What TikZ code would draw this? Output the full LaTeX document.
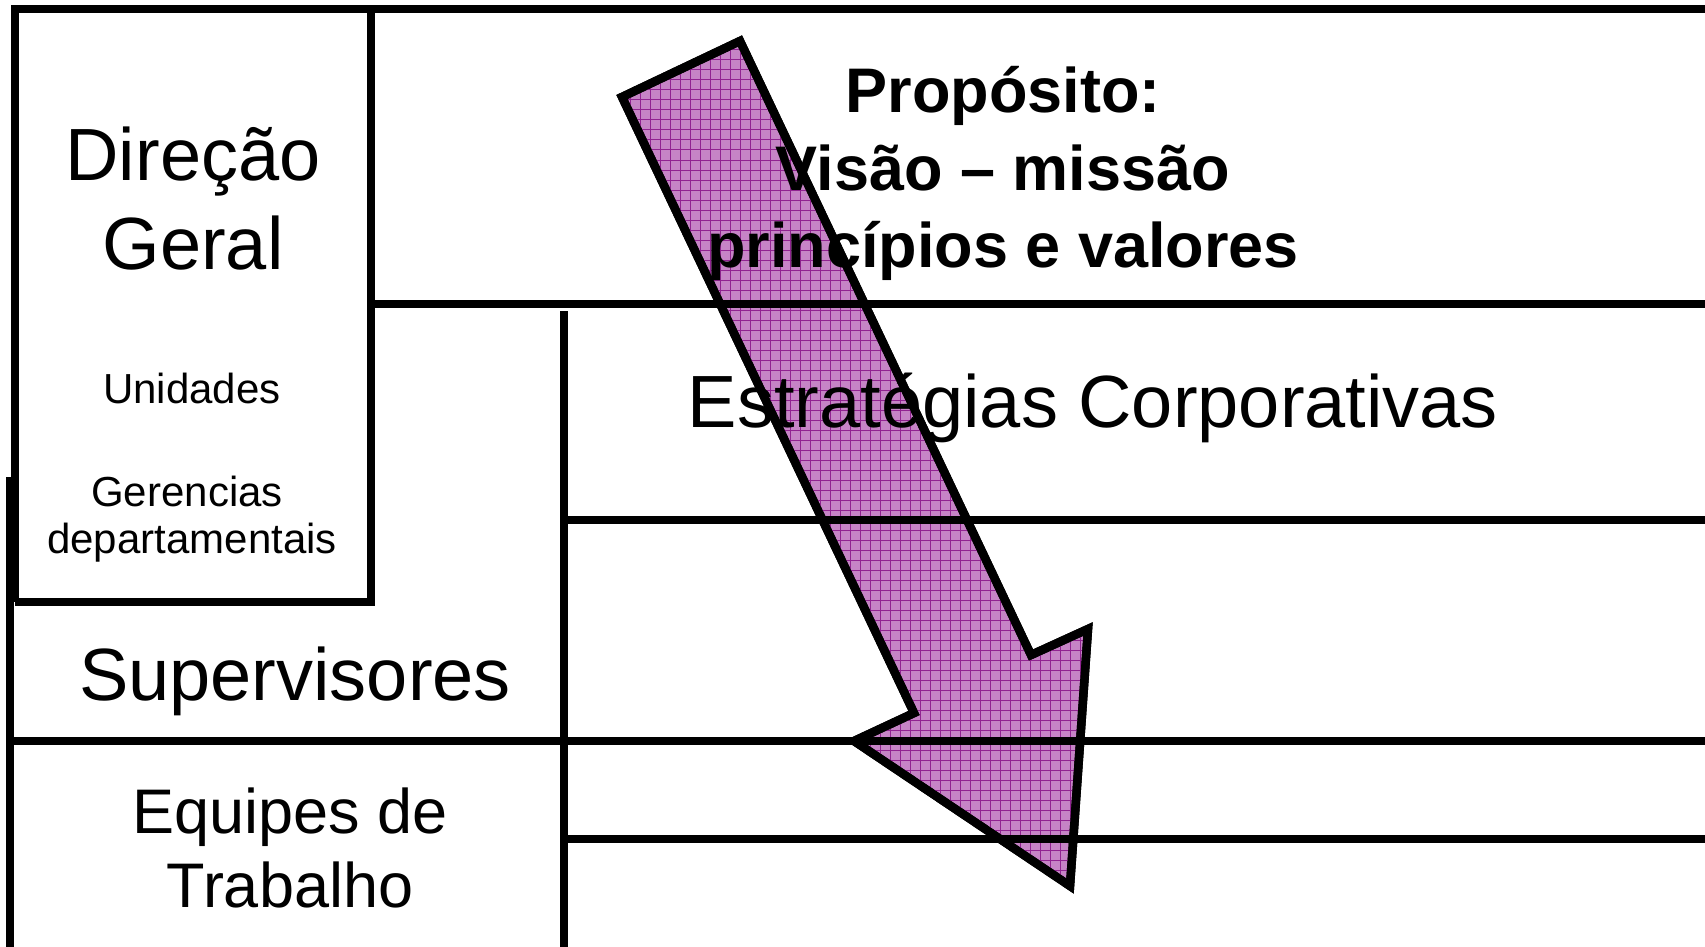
\documentclass[tikz,border=0pt]{standalone}
\usepackage{fontspec}
\setmainfont{Liberation Sans}
\usepackage{xcolor}
\usepackage{tikz}
\definecolor{arPurple}{RGB}{198, 132, 198}
\definecolor{arGrid}{RGB}{145, 35, 145}
\tikzset{
    sepline/.style={
        draw=black,
        line width=7.5pt
    },
    arrowbody/.style={
        draw=black,
        line width=8.5pt,
        fill=arPurple
    },
    gridline/.style={
        draw=arGrid,
        line width=1pt
    },
    txt/.style={
        anchor=base,
        inner sep=0pt
    },
    bigtxt/.style={
        txt,
        font=\fontsize{74pt}{89pt}\selectfont
    },
    midtxt/.style={
        txt,
        font=\fontsize{63pt}{76pt}\selectfont
    },
    smalltxt/.style={
        txt,
        font=\fontsize{42pt}{48pt}\selectfont
    },
    headtxt/.style={
        txt,
        font=\fontsize{63pt}{77pt}\selectfont\bfseries
    }
}

\begin{document}
\begin{tikzpicture}[x=1pt, y=-1pt]
    \useasboundingbox (0,0) rectangle (1705,947);
    \fill[white] (0,0) rectangle (1705,947);

    % Arrow (drawn first, lines and texts lie over it)
    \path[arrowbody] (622,97) -- (740,41) -- (1031,655) -- (1088,629)
        -- (1070,886) -- (854,741) -- (914,713) -- cycle;
    \begin{scope}
        \clip (622,97) -- (740,41) -- (1031,655) -- (1088,629)
            -- (1070,886) -- (854,741) -- (914,713) -- cycle;
        \foreach \gx in {600,610,...,1100}
            \draw[gridline] (\gx,30) -- (\gx,900);
        \foreach \gy in {30,40,...,900}
            \draw[gridline] (600,\gy) -- (1100,\gy);
    \end{scope}
    \draw[black, line width=8.5pt] (622,97) -- (740,41) -- (1031,655) -- (1088,629)
        -- (1070,886) -- (854,741) -- (914,713) -- cycle;

    % Direcao Geral box
    \draw[sepline] (15,602) -- (15,9) -- (1705,9);
    \draw[sepline] (371,9) -- (371,602) -- (15,602);

    % Proposito band
    \draw[sepline] (371,304) -- (1705,304);

    % Estrategias column
    \draw[sepline] (564,311) -- (564,947);
    \draw[sepline] (564,520) -- (1705,520);

    % Supervisores / Equipes
    \draw[sepline] (10,477) -- (10,947);
    \draw[sepline] (10,741) -- (1705,741);
    \draw[sepline] (564,839) -- (1705,839);

    % Texts
    \node[bigtxt] (direcao) at (193,180) {Direção};
    \node[bigtxt] (geral) at (193,269) {Geral};
    \node[smalltxt] (unidades) at (192,403) {Unidades};
    \node[smalltxt] (gerencias) at (187,506) {Gerencias};
    \node[smalltxt] (deptos) at (192,553) {departamentais};
    \node[bigtxt] (superv) at (295,700) {Supervisores};
    \node[midtxt] (equipes) at (290,833) {Equipes de};
    \node[midtxt] (trabalho) at (290,907) {Trabalho};

    \node[headtxt] (proposito) at (1003,113) {Propósito:};
    \node[headtxt] (visao) at (1003,190) {Visão – missão};
    \node[headtxt] (principios) at (1003,267) {princípios e valores};
    \node[bigtxt] (estrategias) at (1093,427) {Estratégias Corporativas};

\end{tikzpicture}
\end{document}
